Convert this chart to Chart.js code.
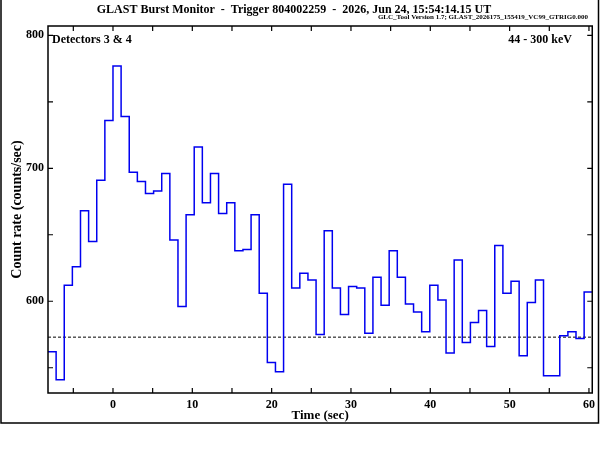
<!DOCTYPE html>
<html>
<head>
<meta charset="utf-8">
<script src="https://cdn.jsdelivr.net/npm/chart.js@4.4.0/dist/chart.umd.min.js"></script>
<style>
  html, body { margin: 0; padding: 0; background: #fff; }
  #wrap { width: 600px; height: 450px; }
</style>
</head>
<body>
<div id="wrap"><canvas id="myChart" width="600" height="450"></canvas></div>
<script>
// count rate per 1.024 s bin, detectors 3 & 4, 44-300 keV
const binWidth = 1.024;
const firstBinStart = -8.192;
const countRate = [
  562, 541, 612, 626, 668, 645, 691, 736, 777, 739, 697, 690, 681, 683, 696, 646, 596, 665,
  716, 674, 696, 666, 674, 638, 639, 665, 606, 554, 547, 688, 610, 621, 616, 575, 653,
  610, 590, 611, 610, 576, 618, 597, 638, 618, 598, 592, 577, 612, 601, 561, 631,
  569, 584, 593, 566, 642, 606, 615, 559, 599, 616, 544, 544, 574, 577, 572, 607,
];
const backgroundLevel = 573;
const xRange = [-8.192, 60.416];
const yRange = [531, 807];

const titleText = "GLAST Burst Monitor  -  Trigger 804002259  -  2026, Jun 24, 15:54:14.15 UT";
const subtitleText = "GLC_Tool Version 1.7; GLAST_2026175_155419_VC99_GTRIG0.000";
const detectorText = "Detectors 3 & 4";
const energyText = "44 - 300 keV";

const FONT = "'Liberation Serif', 'DejaVu Serif', serif";

// left bin edges, plus the closing edge of the last bin
const histPoints = countRate.map((v, i) => ({ x: firstBinStart + i * binWidth, y: v }));
histPoints.push({ x: firstBinStart + countRate.length * binWidth, y: countRate[countRate.length - 1] });

const framePlugin = {
  id: "frame",
  afterDraw(chart) {
    const ctx = chart.ctx;
    const a = chart.chartArea;
    const xs = chart.scales.x;
    const ys = chart.scales.y;
    ctx.save();
    ctx.strokeStyle = "#000";
    ctx.lineWidth = 1.5;
    ctx.strokeRect(a.left, a.top, a.right - a.left, a.bottom - a.top);

    // inward ticks on all four sides
    ctx.lineWidth = 1.2;
    ctx.beginPath();
    xs.ticks.forEach((t) => {
      const px = xs.getPixelForValue(t.value);
      ctx.moveTo(px, a.bottom);
      ctx.lineTo(px, a.bottom - 5);
      ctx.moveTo(px, a.top);
      ctx.lineTo(px, a.top + 5);
    });
    ys.ticks.forEach((t) => {
      const py = ys.getPixelForValue(t.value);
      ctx.moveTo(a.left, py);
      ctx.lineTo(a.left + 5, py);
      ctx.moveTo(a.right, py);
      ctx.lineTo(a.right - 5, py);
    });
    ctx.stroke();

    // outer figure box
    ctx.lineWidth = 1.5;
    ctx.beginPath();
    ctx.moveTo(1, 0);
    ctx.lineTo(1, 423);
    ctx.lineTo(598.5, 423);
    ctx.lineTo(598.5, 0);
    ctx.stroke();

    // header and annotations
    ctx.fillStyle = "#000";
    ctx.textBaseline = "middle";
    ctx.font = "bold 12px " + FONT;
    ctx.textAlign = "center";
    ctx.fillText(titleText, 294, 10);
    ctx.font = "bold 7px " + FONT;
    ctx.textAlign = "right";
    ctx.fillText(subtitleText, 588, 17);
    ctx.font = "bold 12px " + FONT;
    ctx.textAlign = "left";
    ctx.fillText(detectorText, a.left + 4, 40);
    ctx.textAlign = "right";
    ctx.fillText(energyText, 572, 40);
    ctx.restore();
  },
};

const ctx = document.getElementById("myChart").getContext("2d");
const chart = new Chart(ctx, {
  type: "line",
  data: {
    datasets: [
      {
        label: "Count rate",
        data: histPoints,
        stepped: "before",
        borderColor: "rgb(0, 0, 240)",
        borderWidth: 1.5,
        pointRadius: 0,
        fill: false,
      },
      {
        label: "Background",
        data: [
          { x: xRange[0], y: backgroundLevel },
          { x: xRange[1], y: backgroundLevel },
        ],
        borderColor: "#000",
        borderWidth: 1,
        borderDash: [3, 2],
        pointRadius: 0,
        fill: false,
      },
    ],
  },
  options: {
    responsive: false,
    animation: false,
    devicePixelRatio: 1,
    layout: { padding: { top: 26, right: 7, left: 0, bottom: 0 } },
    plugins: {
      legend: { display: false },
      tooltip: { enabled: false },
    },
    scales: {
      x: {
        type: "linear",
        min: xRange[0],
        max: xRange[1],
        grid: { display: false, drawTicks: false },
        border: { display: false },
        ticks: {
          stepSize: 5,
          includeBounds: false,
          autoSkip: false,
          maxRotation: 0,
          padding: 5,
          color: "#000",
          font: { family: FONT, size: 12, weight: "bold" },
          callback: (v) => (v % 10 === 0 ? String(v) : ""),
        },
        title: {
          display: true,
          text: "Time (sec)",
          color: "#000",
          font: { family: FONT, size: 13, weight: "bold" },
          padding: { top: 0, bottom: 26.5 },
        },
        afterFit: (scale) => {
          scale.height = 57;
        },
      },
      y: {
        min: yRange[0],
        max: yRange[1],
        grid: { display: false, drawTicks: false },
        border: { display: false },
        ticks: {
          stepSize: 50,
          includeBounds: false,
          padding: 4,
          color: "#000",
          font: { family: FONT, size: 12, weight: "bold" },
          callback: (v) => (v % 100 === 0 ? String(v) : ""),
        },
        title: {
          display: true,
          text: "Count rate (counts/sec)",
          color: "#000",
          font: { family: FONT, size: 14, weight: "bold" },
          padding: { top: 9, bottom: 0 },
        },
        afterFit: (scale) => {
          scale.width = 48;
        },
      },
    },
  },
  plugins: [framePlugin],
});
</script>
</body>
</html>
